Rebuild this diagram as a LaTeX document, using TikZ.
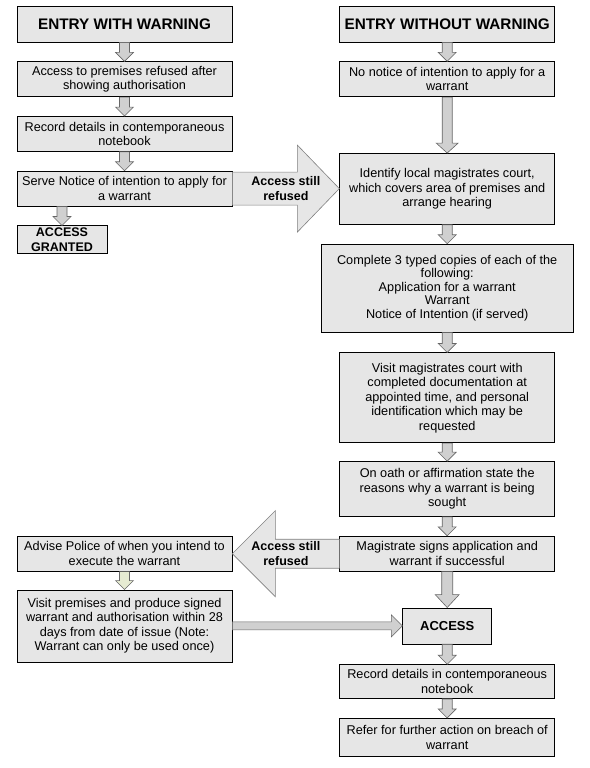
\documentclass[tikz,border=0pt]{standalone}
\usepackage{fontspec}
\setmainfont{Liberation Sans}
\usetikzlibrary{positioning,calc}

\definecolor{boxgray}{HTML}{E6E6E6}
\definecolor{arrowgray}{HTML}{D0D0D0}
\definecolor{arrowgreen}{HTML}{E6EBD2}

\tikzset{
  box/.style={draw=black, fill=boxgray, line width=0.7pt, align=center, inner sep=2pt,
    minimum width=215pt, minimum height=35pt, font=\fontsize{12.7}{14.5}\selectfont},
  titlebox/.style={box, minimum height=36pt, font=\fontsize{15.3}{17}\selectfont\bfseries},
  boldbox/.style={box, font=\fontsize{12.5}{14.5}\selectfont\bfseries},
  reflabel/.style={align=center, inner sep=0pt, font=\fontsize{12.5}{15}\selectfont\bfseries},
  arrshaft/.store in=\arrshaft, arrhead/.store in=\arrhead, arrlen/.store in=\arrlen,
  arrshaft=5pt, arrhead=9pt, arrlen=9pt,
  blockarrow/.style={draw=black!60, fill=arrowgray, line width=0.6pt,
    to path={let \p1=($(\tikztotarget)!\arrlen!(\tikztostart)$) in
      ($(\tikztostart)!\arrshaft!90:(\tikztotarget)$) -- ($(\p1)!\arrshaft!90:(\tikztotarget)$)
      -- ($(\p1)!\arrhead!90:(\tikztotarget)$) -- (\tikztotarget)
      -- ($(\p1)!\arrhead!-90:(\tikztotarget)$) -- ($(\p1)!\arrshaft!-90:(\tikztotarget)$)
      -- ($(\tikztostart)!\arrshaft!-90:(\tikztotarget)$) -- cycle}},
  bigarrow/.style={blockarrow, fill=boxgray, draw=black!50}
}

\begin{document}
\begin{tikzpicture}[x=1pt, y=1pt]
\useasboundingbox (0,0) rectangle (589,-768);

% entry with warning
\node[titlebox] (w0) at (124.5,-24) {ENTRY WITH WARNING};
\node[box] (w1) [below=19pt of w0] {Access to premises refused after\\showing authorisation};
\node[box] (w2) [below=19pt of w1] {Record details in contemporaneous\\notebook};
\node[box] (w3) [below=19pt of w2] {Serve Notice of intention to apply for\\a warrant};
\node[boldbox, minimum width=90pt, minimum height=27pt] (wg) [below=19pt of w3.south west, anchor=north west] {ACCESS\\GRANTED};

% entry without warning
\node[titlebox] (e0) [right=107pt of w0] {ENTRY WITHOUT WARNING};
\node[box] (e1) [below=19pt of e0] {No notice of intention to apply for a\\warrant};
\node[box, minimum height=71pt] (e2) [below=56pt of e1] {Identify local magistrates court,\\which covers area of premises and\\arrange hearing};
\node[box, minimum width=252pt, minimum height=88pt, font=\fontsize{12.7}{13.5}\selectfont] (e3) [below=19pt of e2] {Complete 3 typed copies of each of the\\following:\\Application for a warrant\\Warrant\\Notice of Intention (if served)};
\node[box, minimum height=90pt] (e4) [below=20pt of e3] {Visit magistrates court with\\completed documentation at\\appointed time, and personal\\identification which may be\\requested};
\node[box, minimum height=55pt] (e5) [below=18pt of e4] {On oath or affirmation state the\\reasons why a warrant is being\\sought};
\node[box] (e6) [below=19pt of e5] {Magistrate signs application and\\warrant if successful};
\node[boldbox, minimum width=89pt, minimum height=36pt, font=\fontsize{13}{15}\selectfont\bfseries] (acc) [below=36pt of e6] {ACCESS};
\node[box, minimum height=34pt] (r1) [below=20pt of acc] {Record details in contemporaneous\\notebook};
\node[box, minimum height=38pt] (r2) [below=19pt of r1] {Refer for further action on breach of\\warrant};

% warrant granted
\node[box] (adv) [left=107pt of e6] {Advise Police of when you intend to\\execute the warrant};
\node[box, minimum height=72pt] (vis) [below=18pt of adv] {Visit premises and produce signed\\warrant and authorisation within 28\\days from date of issue (Note:\\Warrant can only be used once)};

% arrows
\foreach \a/\b in {w0/w1, w1/w2, w2/w3, e0/e1, e2/e3, e3/e4, e4/e5, e5/e6, acc/r1, r1/r2}
  \draw[blockarrow] (\a.south) to (\b.north);
\draw[blockarrow] (wg.north |- w3.south) to (wg.north);
\draw[blockarrow, fill=arrowgreen] (adv.south) to (vis.north);
\draw[blockarrow, arrhead=11pt, arrlen=10pt] (e1.south) to (e2.north);
\draw[blockarrow, arrshaft=5.5pt, arrhead=12pt, arrlen=13pt] (e6.south) to (acc.north);
\draw[blockarrow, arrshaft=4pt, arrhead=11pt, arrlen=11pt] (vis.east) to (acc.west);
\draw[bigarrow, arrshaft=16.5pt, arrhead=43.5pt, arrlen=42pt] (w3.east) to (w3.east -| e2.west);
\draw[bigarrow, arrshaft=14.5pt, arrhead=43pt, arrlen=43pt] (e6.west) to (adv.east);

\node[reflabel] (lbl1) at ($(w3.east)!0.5!(w3.east -| e2.west)$) {Access still\\refused};
\node[reflabel] (lbl2) at ($(e6.west)!0.5!(adv.east)$) {Access still\\refused};
\end{tikzpicture}
\end{document}
